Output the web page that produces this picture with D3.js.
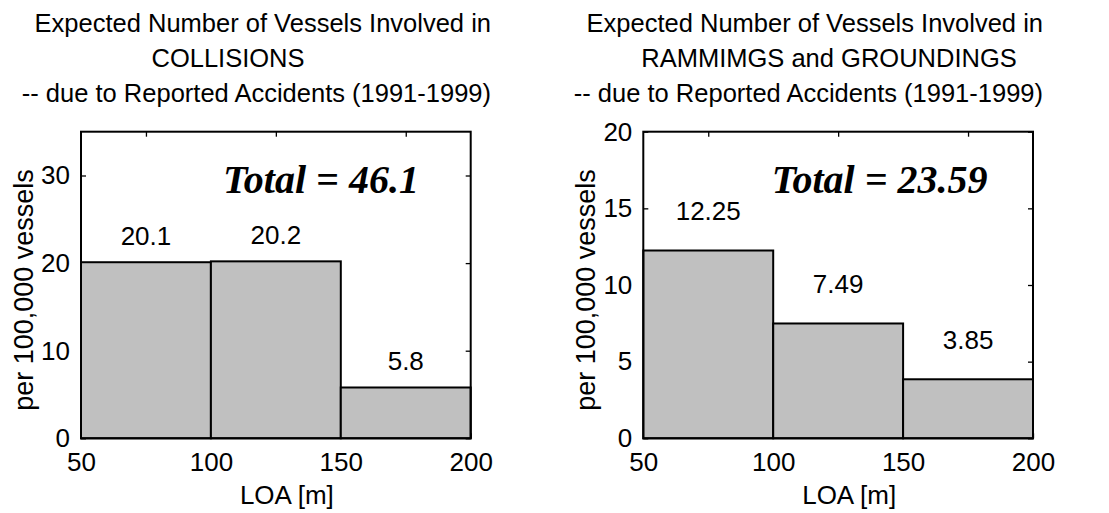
<!DOCTYPE html>
<html>
<head>
<meta charset="utf-8">
<script src="https://cdn.jsdelivr.net/npm/d3@7"></script>
<style>
  html, body { margin: 0; padding: 0; background: #fff; }
  svg { display: block; }
  text { fill: #000; }
</style>
</head>
<body>
<svg id="chart" width="1109" height="513"></svg>
<script>
// ---------- data ----------
const binEdges = [50, 100, 150, 200];
const xTickLabels = [50, 100, 150, 200];
const xMinorTicks = [75, 125, 175];

const collisionValues = [20.1, 20.2, 5.8];
const collisionYTicks = [0, 10, 20, 30];
const collisionYMax = 35;
const collisionTitle = ["Expected Number of Vessels Involved in", "COLLISIONS", "-- due to Reported Accidents (1991-1999)"];

const groundingValues = [12.25, 7.49, 3.85];
const groundingYTicks = [0, 5, 10, 15, 20];
const groundingYMax = 20;
const groundingTitle = ["Expected Number of Vessels Involved in", "RAMMIMGS and GROUNDINGS", "-- due to Reported Accidents (1991-1999)"];

const xAxisLabel = "LOA [m]";
const yAxisLabel = "per 100,000 vessels";

// ---------- drawing ----------
const SANS = "'Liberation Sans', Arial, sans-serif";
const SERIF = "'Liberation Serif', 'Times New Roman', serif";
const svg = d3.select("#chart");
const plotTop = 131.7, plotBottom = 438.3, plotWidth = 389.7;

function drawPanel(opts) {
  const { left, values, yTicks, yMax, title, titleEnd, title2Center, totalX } = opts;
  const g = svg.append("g").style("font-family", SANS);
  const x = d3.scaleLinear().domain([binEdges[0], binEdges[binEdges.length - 1]]).range([left, left + plotWidth]);
  const y = d3.scaleLinear().domain([0, yMax]).range([plotBottom, plotTop]);

  const bins = values.map((v, i) => ({ x0: binEdges[i], x1: binEdges[i + 1], v }));

  // inward tick marks (drawn below the bars)
  const tickStyle = sel => {
    sel.attr("font-family", null).attr("font-size", null);
    sel.select(".domain").remove();
    sel.selectAll("line").attr("stroke", "#000").attr("stroke-width", 1.3);
    sel.selectAll("text").style("font-size", "26px").style("font-family", SANS).attr("fill", "#000");
  };
  g.append("g").attr("transform", `translate(${left},0)`)
    .call(d3.axisLeft(y).tickValues(yTicks).tickSizeInner(-5).tickSizeOuter(0).tickPadding(11).tickFormat(d3.format("d")))
    .call(tickStyle);
  g.append("g").attr("transform", `translate(${left + plotWidth},0)`)
    .call(d3.axisRight(y).tickValues(yTicks).tickSizeInner(-5).tickSizeOuter(0).tickFormat(""))
    .call(tickStyle);
  g.append("g").attr("transform", `translate(0,${plotBottom})`)
    .call(d3.axisBottom(x).tickValues(xTickLabels).tickSizeInner(-5).tickSizeOuter(0).tickPadding(14).tickFormat(d3.format("d")))
    .call(tickStyle);
  g.append("g").attr("transform", `translate(0,${plotTop})`)
    .call(d3.axisTop(x).tickValues(xMinorTicks).tickSizeInner(-5).tickSizeOuter(0).tickFormat(""))
    .call(tickStyle);

  // bars
  g.selectAll("rect.bar").data(bins).join("rect")
    .attr("class", "bar")
    .attr("x", d => x(d.x0))
    .attr("y", d => y(d.v))
    .attr("width", d => x(d.x1) - x(d.x0))
    .attr("height", d => y(0) - y(d.v))
    .attr("fill", "#c0c0c0")
    .attr("stroke", "#000")
    .attr("stroke-width", 2);

  // frame
  g.append("rect")
    .attr("x", x.range()[0]).attr("y", plotTop)
    .attr("width", plotWidth).attr("height", plotBottom - plotTop)
    .attr("fill", "none").attr("stroke", "#000").attr("stroke-width", 2);

  // bar value labels
  g.selectAll("text.val").data(bins).join("text")
    .attr("class", "val")
    .attr("x", d => x((d.x0 + d.x1) / 2))
    .attr("y", d => y(d.v + 2))
    .attr("text-anchor", "middle")
    .style("font-size", "26px")
    .text(d => String(d.v));

  // total annotation
  const total = Math.round(d3.sum(values) * 100) / 100;
  g.append("text")
    .attr("x", x(totalX))
    .attr("y", y(yMax * 0.8))
    .style("font-family", SERIF)
    .style("font-weight", "bold")
    .style("font-style", "italic")
    .style("font-size", "40px")
    .text(`Total = ${total}`);

  // title
  const titleY = [31.7, 66.7, 101.7];
  title.forEach((line, i) => {
    g.append("text")
      .attr("x", i === 1 ? title2Center : titleEnd)
      .attr("y", titleY[i])
      .attr("text-anchor", i === 1 ? "middle" : "end")
      .style("font-size", "25.5px")
      .text(line);
  });

  // axis labels
  g.append("text")
    .attr("x", left + plotWidth / 2 + 11)
    .attr("y", 504)
    .attr("text-anchor", "middle")
    .style("font-size", "26px")
    .text(xAxisLabel);
  g.append("text")
    .attr("transform", `translate(${left - 48},${290}) rotate(-90)`)
    .attr("text-anchor", "middle")
    .style("font-size", "27px")
    .text(yAxisLabel);
}

drawPanel({ left: 81, values: collisionValues, yTicks: collisionYTicks, yMax: collisionYMax,
  title: collisionTitle, titleEnd: 491, title2Center: 228, totalX: 104.7 });
drawPanel({ left: 643.3, values: groundingValues, yTicks: groundingYTicks, yMax: groundingYMax,
  title: groundingTitle, titleEnd: 1043, title2Center: 829, totalX: 99.4 });
</script>
</body>
</html>
